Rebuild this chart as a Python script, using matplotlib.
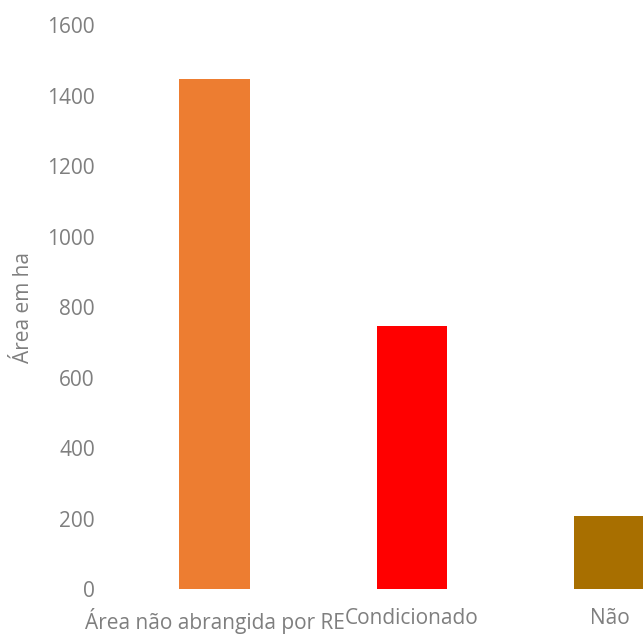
import matplotlib.pyplot as plt

plt.rcParams['font.family'] = ['Open Sans', 'DejaVu Sans']

categorias = ['Área não abrangida por RE', 'Condicionado', 'Não']
area_ha = [1446, 747, 207]
cores = ['#ED7D31', '#FF0000', '#A86F00']
yticks = [0, 200, 400, 600, 800, 1000, 1200, 1400, 1600]

fig = plt.figure(figsize=(6.43, 6.35), dpi=100)
ax = fig.add_axes([0.18, 0.0724, 0.82, 0.888])

x = list(range(len(categorias)))
ax.bar(x, area_ha, width=0.355, color=cores)

ax.set_xlim(-0.5, 2.17)
ax.set_ylim(0, 1600)
ax.set_yticks(yticks)
ax.set_xticks(x)
ax.set_xticklabels(categorias)

cinza = '#7f7f7f'
ax.tick_params(axis='both', length=0, labelsize=15, colors=cinza)
ax.tick_params(axis='x', pad=14)
ax.tick_params(axis='y', pad=15)
for s in ax.spines.values():
    s.set_visible(False)

ax.set_ylabel('Área em ha', fontsize=15, color=cinza)
ax.yaxis.set_label_coords(-0.155, 0.5)

fig.savefig('out.png', dpi=100)
